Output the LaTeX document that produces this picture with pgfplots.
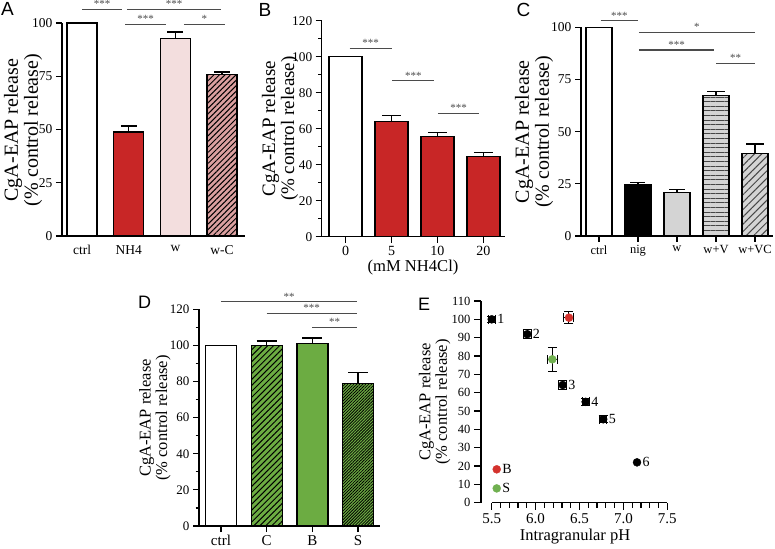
\documentclass[border=0pt]{standalone}
\usepackage{fontspec}
\setmainfont{Liberation Serif}
\newfontfamily\sansf{Liberation Sans}
\usepackage{pgfplots}
\pgfplotsset{compat=1.18}
\usetikzlibrary{patterns.meta}
\definecolor{barred}{RGB}{200,38,38}
\definecolor{lpink}{RGB}{243,222,222}
\definecolor{mpink}{RGB}{219,160,160}
\definecolor{lgray}{RGB}{212,212,212}
\definecolor{hgray}{RGB}{70,70,70}
\definecolor{bgreen}{RGB}{108,172,66}
\definecolor{sig}{RGB}{75,75,75}
\definecolor{ered}{RGB}{212,50,45}
\definecolor{egreen}{RGB}{112,176,80}
\newcommand{\fs}[1]{\fontsize{#1}{#1}\selectfont}
\tikzset{sigline/.style={draw=sig, line width=1.2pt}}
\pgfplotsset{
  base/.style={scale only axis, clip=false, anchor=south west,
    axis x line*=bottom, axis y line*=left,
    axis line style={line width=1.4pt, black, -},
    every tick/.style={black, line width=1.2pt},
    tick align=outside, major tick length=6pt, minor tick length=3.5pt,
    /pgf/number format/assume math mode=true, ymin=0},
  barpanel/.style={base, ybar},
  bx/.style={draw=black, line width=1.3pt, bar shift=0pt},
  ebar/.style={error bars/.cd, y dir=plus, y explicit,
     error bar style={line width=1.4pt, black},
     error mark options={rotate=90, black, line width=1.4pt, mark size=#1}},
}
\newcommand{\sigb}[4]{\draw[sigline] (axis cs:#1,#3) -- (axis cs:#2,#3) node[midway, above, inner sep=1pt, text=sig, font=\fs{11}] {#4};}
\begin{document}
\begin{tikzpicture}
\useasboundingbox (0,0) rectangle (775pt,548pt);
% ---------------- A
\begin{axis}[barpanel, at={(62pt,312pt)}, width=183pt, height=213pt,
  xmin=-0.43, xmax=3.49, ymax=100, bar width=30pt,
  xtick={0,1,2,3}, xticklabels={ctrl,NH4,w,w-C}, xtick style={draw=none},
  ytick={0,25,50,75,100},
  xticklabel style={font=\fs{13.5}}, yticklabel style={font=\fs{13.5}}]
\addplot[bx, fill=white] coordinates {(0,100)};
\addplot[bx, fill=barred, ebar=8pt] coordinates {(1,48.8) +- (0,2.8)};
\addplot[bx, fill=lpink, ebar=8pt] coordinates {(2,92.7) +- (0,3.1)};
\addplot[bx, fill=mpink, postaction={pattern={Lines[angle=45,distance=3.9pt,line width=1pt]}, pattern color=black}, ebar=8pt] coordinates {(3,75.9) +- (0,1.1)};
\sigb{0}{0.86}{106.4}{***}
\sigb{0.96}{2.98}{106.4}{***}
\sigb{0.92}{1.8}{99.4}{***}
\sigb{2.18}{3.06}{99.4}{*}
\end{axis}
% ---------------- B
\begin{axis}[barpanel, at={(321.7pt,311.3pt)}, width=183.3pt, height=216pt,
  xmin=-0.52, xmax=3.47, ymax=120, bar width=33pt,
  xtick={0,1,2,3}, xticklabels={0,5,10,20},
  ytick={0,20,...,120}, minor ytick={10,30,...,110},
  xticklabel style={font=\fs{14}}, yticklabel style={font=\fs{13.3}}]
\addplot[bx, fill=white] coordinates {(0,100)};
\addplot[bx, fill=barred, ebar=9.5pt] coordinates {(1,63.9) +- (0,3.3)};
\addplot[bx, fill=barred, ebar=9.5pt] coordinates {(2,55.6) +- (0,2.2)};
\addplot[bx, fill=barred, ebar=9.5pt] coordinates {(3,44.4) +- (0,2.3)};
\sigb{0.09}{1.0}{104.6}{***}
\sigb{1.02}{1.93}{86.7}{***}
\sigb{2.01}{2.91}{68.5}{***}
\end{axis}
% ---------------- C
\begin{axis}[barpanel, at={(581pt,312pt)}, width=192pt, height=208.7pt,
  xmin=-0.46, xmax=4.46, ymax=100, bar width=26pt,
  xtick={0,1,2,3,4}, xticklabels={ctrl,nig,w,w+V,w+VC},
  ytick={0,25,50,75,100},
  xticklabel style={font=\fs{12.5}}, yticklabel style={font=\fs{13.5}}]
\addplot[bx, fill=white] coordinates {(0,100)};
\addplot[bx, fill=black, ebar=7.5pt] coordinates {(1,24.8) +- (0,0.9)};
\addplot[bx, fill=lgray, ebar=8pt] coordinates {(2,20.8) +- (0,1.6)};
\addplot[bx, fill=lgray, postaction={pattern={Lines[angle=0,distance=4.6pt,line width=1pt]}, pattern color=hgray}, ebar=9pt] coordinates {(3,67.3) +- (0,1.9)};
\addplot[bx, fill=lgray, postaction={pattern={Lines[angle=45,distance=5.2pt,line width=1pt]}, pattern color=hgray}, ebar=9pt] coordinates {(4,39.6) +- (0,4.5)};
\sigb{0.04}{1.0}{103.2}{***}
\sigb{1.02}{4.0}{97.6}{*}
\sigb{1.02}{2.96}{89.1}{***}
\sigb{3.0}{4.0}{82.7}{**}
\end{axis}
% ---------------- D
\begin{axis}[barpanel, at={(199pt,22pt)}, width=181pt, height=216.7pt,
  xmin=-0.48, xmax=3.48, ymax=120, bar width=31pt,
  xtick={0,1,2,3}, xticklabels={ctrl,C,B,S},
  ytick={0,20,...,120}, minor ytick={10,30,...,110},
  xticklabel style={font=\fs{15}}, yticklabel style={font=\fs{13}}]
\addplot[bx, fill=white] coordinates {(0,100)};
\addplot[bx, fill=bgreen, postaction={pattern={Lines[angle=45,distance=4.2pt,line width=1pt]}, pattern color=black}, ebar=10pt] coordinates {(1,100) +- (0,2.4)};
\addplot[bx, fill=bgreen, ebar=10pt] coordinates {(2,101.1) +- (0,3.1)};
\addplot[bx, fill=bgreen, postaction={pattern={Lines[angle=45,distance=2.1pt,line width=0.8pt]}, pattern color=black}, ebar=10pt] coordinates {(3,78.8) +- (0,6.2)};
\sigb{0}{2.98}{124.2}{**}
\sigb{1.0}{2.97}{117.7}{***}
\sigb{2.0}{2.97}{110}{**}
\end{axis}
% ---------------- E
\begin{axis}[base, at={(481pt,45.3pt)}, width=186.3pt, height=201.7pt,
  xmin=5.378, xmax=7.5, ymax=110,
  axis line style={draw=none},
  xtick={5.5,6,6.5,7,7.5}, minor x tick num=4,
  ytick={0,10,...,110}, major tick length=7pt, minor tick length=5pt,
  xticklabel style={font=\fs{15}, /pgf/number format/.cd, fixed, fixed zerofill, precision=1},
  yticklabel style={font=\fs{12.5}}]
\draw[line width=1.4pt] (axis cs:5.378,0) -- (axis cs:5.378,110);
\draw[line width=1.4pt] (axis cs:5.5,0) -- (axis cs:7.5,0);
\addplot[only marks, mark=*, mark size=4pt, black,
  error bars/.cd, x dir=both, x explicit, y dir=both, y explicit,
  error bar style={line width=1pt, black},
  error mark options={rotate=90, black, line width=1pt, mark size=4.5pt}]
  coordinates {(5.50,100) +- (0.04,1.8) (5.905,91.9) +- (0.045,2.3) (6.309,64.2) +- (0.045,2.3) (6.57,55.0) +- (0.04,2.0) (6.77,45.5) +- (0.04,1.8)};
\addplot[only marks, mark=*, mark size=4pt, black] coordinates {(7.155,22.0)};
\addplot[only marks, mark=*, mark size=4pt, ered,
  error bars/.cd, x dir=both, x explicit, y dir=both, y explicit,
  error bar style={line width=1pt, black},
  error mark options={rotate=90, black, line width=1pt, mark size=4.5pt}]
  coordinates {(6.38,100.9) +- (0.057,3.1)};
\addplot[only marks, mark=*, mark size=4pt, egreen,
  error bars/.cd, x dir=both, x explicit, y dir=both, y explicit,
  error bar style={line width=1pt, black},
  error mark options={rotate=90, black, line width=1pt, mark size=4.5pt}]
  coordinates {(6.19,78.2) +- (0.057,6.5)};
\addplot[only marks, mark=*, mark size=4pt, ered] coordinates {(5.557,18.2)};
\addplot[only marks, mark=*, mark size=4pt, egreen] coordinates {(5.557,7.8)};
\begin{scope}[every node/.style={anchor=west, inner sep=0pt, font=\fs{14}, xshift=5.5pt}]
\node at (axis cs:5.50,100) {1};
\node at (axis cs:5.905,91.9) {2};
\node at (axis cs:6.309,64.2) {3};
\node at (axis cs:6.57,55.0) {4};
\node at (axis cs:6.77,45.5) {5};
\node at (axis cs:7.155,22.0) {6};
\node at (axis cs:5.557,18.2) {B};
\node at (axis cs:5.557,7.8) {S};
\end{scope}
\end{axis}
% ---------------- labels
\node[rotate=90, align=center, font=\fs{20}] at (23pt,418pt) {CgA-EAP release\\(\% control release)};
\node[rotate=90, align=center, font=\fs{19}] at (280pt,419.3pt) {CgA-EAP release\\(\% control release)};
\node[rotate=90, align=center, font=\fs{20}] at (534pt,416.3pt) {CgA-EAP release\\(\% control release)};
\node[rotate=90, align=center, font=\fs{16.5}] at (155pt,130pt) {CgA-EAP release\\(\% control release)};
\node[rotate=90, align=center, font=\fs{16.5}] at (434.7pt,146pt) {CgA-EAP release\\(\% control release)};
\node[font=\fs{16.6}] at (413pt,280pt) {(mM NH4Cl)};
\node[font=\fs{16.5}] at (575pt,11.3pt) {Intragranular pH};
\node[font=\sansf\fs{19}] at (7.5pt,539pt) {A};
\node[font=\sansf\fs{19}] at (265pt,538.3pt) {B};
\node[font=\sansf\fs{19}] at (523.5pt,537.7pt) {C};
\node[font=\sansf\fs{18}] at (144.5pt,246pt) {D};
\node[font=\sansf\fs{18}] at (424pt,243.5pt) {E};
\end{tikzpicture}
\end{document}
